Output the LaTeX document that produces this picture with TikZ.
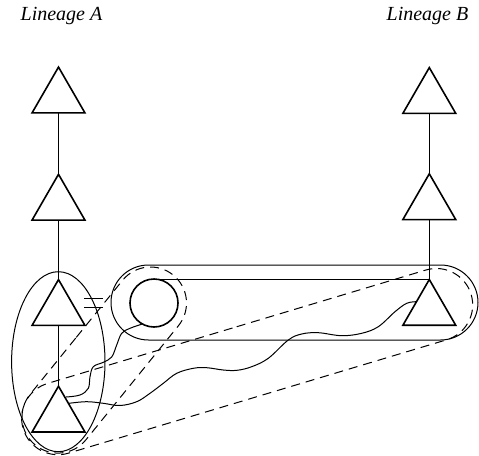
\documentclass[tikz,border=0pt]{standalone}
\usepackage{fontspec}
\setmainfont{Liberation Serif}
\usetikzlibrary{shapes.geometric,shapes.misc}
\begin{document}
\begin{tikzpicture}[x=1pt,y=-1pt,
  thin/.style={line width=1pt},
  tri/.style={draw, regular polygon, regular polygon sides=3, minimum size=61pt, inner sep=0pt, outer sep=0pt, line width=1.6pt},
  dsh/.style={thin, dash pattern=on 9pt off 6pt},
  grp/.style={draw, rounded rectangle, inner sep=0pt, outer sep=0pt},
  lab/.style={font=\fontsize{20}{24}\selectfont\itshape, anchor=base, inner sep=0pt}
]
\useasboundingbox (0,0) rectangle (479,455);

% labels
\node[lab] (labA) at (61.5,20) {Lineage A};
\node[lab] (labB) at (427.5,20) {Lineage B};

% triangles
\node[tri] (A1) at (58.5,97.6) {};
\node[tri] (A2) at (58.5,204.8) {};
\node[tri] (A3) at (58.5,310.1) {};
\node[tri] (A4) at (58.5,416.7) {};
\node[tri] (B1) at (429.3,98.1) {};
\node[tri] (B2) at (429.3,204.3) {};
\node[tri] (B3) at (429.3,310) {};

% circle
\node[draw, circle, minimum size=48pt, inner sep=0pt, outer sep=0pt, line width=1.6pt] (circ) at (154,303) {};

% lineage lines
\draw[thin] (A1.south) -- (A2.north);
\draw[thin] (A2.south) -- (A3.north);
\draw[thin] (A3.south) -- (A4.north);
\draw[thin] (B1.south) -- (B2.north);
\draw[thin] (B2.south) -- (B3.north);
\draw[thin] (circ.north) -- (circ.north -| B3.north);

% equals sign
\draw[thin] (84,298) -- (103,298);
\draw[thin] (84,307) -- (103,307);

% solid groupings
\node[grp, thin, minimum width=93.4pt, minimum height=180pt, ellipse] (ellA) at (58.3,361.7) {};
\node[grp, thin, minimum width=367pt, minimum height=75pt] (pair) at (294.5,302.5) {};

% dashed groupings
\node[grp, dsh, minimum width=218.9pt, minimum height=72pt, rotate=50.96] (grpA) at (104.25,360.05) {};
\node[grp, dsh, minimum width=467.7pt, minimum height=72.8pt, rotate=16.69] (grpB) at (247.15,361.6) {};

% wavy links
\coordinate (w1e) at (66,397);
\coordinate (w2s) at (69,403.3);
\coordinate (w2e) at (416.5,301.7);
\draw[thin] plot[smooth, tension=0.6] coordinates {(circ.241) (130,328.3) (121.7,333.3) (116.7,345) (111.7,357) (103.3,362.3) (93.3,366.7) (90,376.7) (88.3,388.3) (80,395) (w1e)};
\draw[thin] plot[smooth, tension=0.6] coordinates {(w2s) (86.7,401.7) (103.3,403.3) (120,405.5) (136.7,401.7) (150,393.3) (163.3,383.3) (176.7,373.3) (193.3,368.3) (206.7,367.7) (223.3,370) (237,370.3) (251.7,366.7) (268.3,358.3) (288.3,340) (301.7,334) (318.3,332.7) (341.7,335.7) (361.7,333.3) (378.3,326.7) (395,311.7) (406.7,303.3) (w2e)};
\end{tikzpicture}
\end{document}
